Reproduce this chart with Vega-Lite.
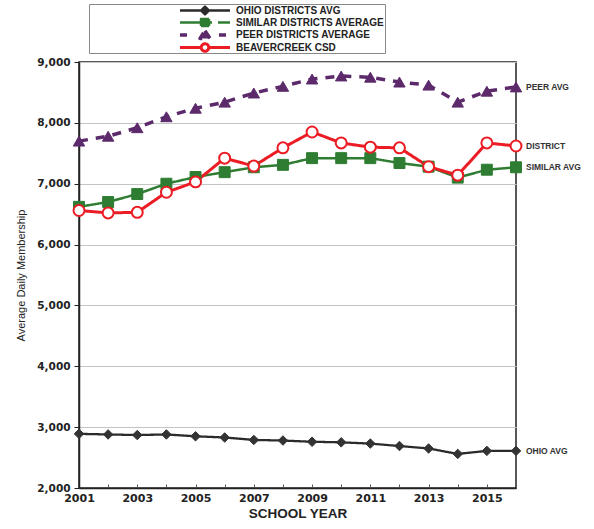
{
  "$schema": "https://vega.github.io/schema/vega-lite/v6.json",
  "autosize": {"type": "none"},
  "width": 437,
  "height": 426,
  "padding": {"left": 79, "top": 62, "right": 78, "bottom": 41},
  "background": "white",
  "config": {
    "font": "Liberation Sans",
    "view": {"stroke": "#222", "strokeWidth": 1.5}
  },
  "datasets": {
    "adm": [
      {"series": "OHIO DISTRICTS AVG", "year": 2001, "adm": 2890},
      {"series": "OHIO DISTRICTS AVG", "year": 2002, "adm": 2880},
      {"series": "OHIO DISTRICTS AVG", "year": 2003, "adm": 2870},
      {"series": "OHIO DISTRICTS AVG", "year": 2004, "adm": 2880},
      {"series": "OHIO DISTRICTS AVG", "year": 2005, "adm": 2850},
      {"series": "OHIO DISTRICTS AVG", "year": 2006, "adm": 2830},
      {"series": "OHIO DISTRICTS AVG", "year": 2007, "adm": 2790},
      {"series": "OHIO DISTRICTS AVG", "year": 2008, "adm": 2780},
      {"series": "OHIO DISTRICTS AVG", "year": 2009, "adm": 2760},
      {"series": "OHIO DISTRICTS AVG", "year": 2010, "adm": 2750},
      {"series": "OHIO DISTRICTS AVG", "year": 2011, "adm": 2730},
      {"series": "OHIO DISTRICTS AVG", "year": 2012, "adm": 2690},
      {"series": "OHIO DISTRICTS AVG", "year": 2013, "adm": 2650},
      {"series": "OHIO DISTRICTS AVG", "year": 2014, "adm": 2560},
      {"series": "OHIO DISTRICTS AVG", "year": 2015, "adm": 2610},
      {"series": "OHIO DISTRICTS AVG", "year": 2016, "adm": 2610},
      {"series": "SIMILAR DISTRICTS AVERAGE", "year": 2001, "adm": 6620},
      {"series": "SIMILAR DISTRICTS AVERAGE", "year": 2002, "adm": 6700},
      {"series": "SIMILAR DISTRICTS AVERAGE", "year": 2003, "adm": 6830},
      {"series": "SIMILAR DISTRICTS AVERAGE", "year": 2004, "adm": 7000},
      {"series": "SIMILAR DISTRICTS AVERAGE", "year": 2005, "adm": 7110},
      {"series": "SIMILAR DISTRICTS AVERAGE", "year": 2006, "adm": 7190},
      {"series": "SIMILAR DISTRICTS AVERAGE", "year": 2007, "adm": 7270},
      {"series": "SIMILAR DISTRICTS AVERAGE", "year": 2008, "adm": 7310},
      {"series": "SIMILAR DISTRICTS AVERAGE", "year": 2009, "adm": 7420},
      {"series": "SIMILAR DISTRICTS AVERAGE", "year": 2010, "adm": 7420},
      {"series": "SIMILAR DISTRICTS AVERAGE", "year": 2011, "adm": 7420},
      {"series": "SIMILAR DISTRICTS AVERAGE", "year": 2012, "adm": 7340},
      {"series": "SIMILAR DISTRICTS AVERAGE", "year": 2013, "adm": 7280},
      {"series": "SIMILAR DISTRICTS AVERAGE", "year": 2014, "adm": 7100},
      {"series": "SIMILAR DISTRICTS AVERAGE", "year": 2015, "adm": 7230},
      {"series": "SIMILAR DISTRICTS AVERAGE", "year": 2016, "adm": 7270},
      {"series": "PEER DISTRICTS AVERAGE", "year": 2001, "adm": 7700},
      {"series": "PEER DISTRICTS AVERAGE", "year": 2002, "adm": 7780},
      {"series": "PEER DISTRICTS AVERAGE", "year": 2003, "adm": 7920},
      {"series": "PEER DISTRICTS AVERAGE", "year": 2004, "adm": 8100},
      {"series": "PEER DISTRICTS AVERAGE", "year": 2005, "adm": 8240},
      {"series": "PEER DISTRICTS AVERAGE", "year": 2006, "adm": 8340},
      {"series": "PEER DISTRICTS AVERAGE", "year": 2007, "adm": 8490},
      {"series": "PEER DISTRICTS AVERAGE", "year": 2008, "adm": 8600},
      {"series": "PEER DISTRICTS AVERAGE", "year": 2009, "adm": 8720},
      {"series": "PEER DISTRICTS AVERAGE", "year": 2010, "adm": 8770},
      {"series": "PEER DISTRICTS AVERAGE", "year": 2011, "adm": 8750},
      {"series": "PEER DISTRICTS AVERAGE", "year": 2012, "adm": 8670},
      {"series": "PEER DISTRICTS AVERAGE", "year": 2013, "adm": 8620},
      {"series": "PEER DISTRICTS AVERAGE", "year": 2014, "adm": 8340},
      {"series": "PEER DISTRICTS AVERAGE", "year": 2015, "adm": 8520},
      {"series": "PEER DISTRICTS AVERAGE", "year": 2016, "adm": 8590},
      {"series": "BEAVERCREEK CSD", "year": 2001, "adm": 6560},
      {"series": "BEAVERCREEK CSD", "year": 2002, "adm": 6520},
      {"series": "BEAVERCREEK CSD", "year": 2003, "adm": 6530},
      {"series": "BEAVERCREEK CSD", "year": 2004, "adm": 6860},
      {"series": "BEAVERCREEK CSD", "year": 2005, "adm": 7030},
      {"series": "BEAVERCREEK CSD", "year": 2006, "adm": 7420},
      {"series": "BEAVERCREEK CSD", "year": 2007, "adm": 7290},
      {"series": "BEAVERCREEK CSD", "year": 2008, "adm": 7590},
      {"series": "BEAVERCREEK CSD", "year": 2009, "adm": 7850},
      {"series": "BEAVERCREEK CSD", "year": 2010, "adm": 7670},
      {"series": "BEAVERCREEK CSD", "year": 2011, "adm": 7600},
      {"series": "BEAVERCREEK CSD", "year": 2012, "adm": 7590},
      {"series": "BEAVERCREEK CSD", "year": 2013, "adm": 7280},
      {"series": "BEAVERCREEK CSD", "year": 2014, "adm": 7140},
      {"series": "BEAVERCREEK CSD", "year": 2015, "adm": 7670},
      {"series": "BEAVERCREEK CSD", "year": 2016, "adm": 7620}
    ],
    "tags": [
      {"series": "OHIO DISTRICTS AVG", "tag": "OHIO AVG"},
      {"series": "SIMILAR DISTRICTS AVERAGE", "tag": "SIMILAR AVG"},
      {"series": "PEER DISTRICTS AVERAGE", "tag": "PEER AVG"},
      {"series": "BEAVERCREEK CSD", "tag": "DISTRICT"}
    ]
  },
  "data": {"name": "adm"},
  "encoding": {
    "x": {
      "field": "year",
      "type": "quantitative",
      "scale": {"domain": [2001, 2016], "nice": false, "zero": false},
      "axis": {
        "title": "SCHOOL YEAR",
        "values": [2001, 2002, 2003, 2004, 2005, 2006, 2007, 2008, 2009, 2010, 2011, 2012, 2013, 2014, 2015, 2016],
        "format": "d",
        "labelExpr": "datum.value % 2 == 1 ? datum.label : ''",
        "labelFlush": false,
        "grid": false,
        "domainColor": "#222",
        "domainWidth": 1.5,
        "tickColor": "#555",
        "tickSize": -4,
        "labelFont": "DejaVu Sans",
        "labelFontSize": 11,
        "labelFontWeight": "bold",
        "labelColor": "#222",
        "labelPadding": 8,
        "titleFontSize": 13.5,
        "titleFontWeight": "bold",
        "titleColor": "#222",
        "titlePadding": 3
      }
    },
    "y": {
      "field": "adm",
      "type": "quantitative",
      "scale": {"domain": [2000, 9000], "nice": false, "zero": false},
      "axis": {
        "title": "Average Daily Membership",
        "values": [2000, 3000, 4000, 5000, 6000, 7000, 8000, 9000],
        "format": ",d",
        "grid": true,
        "gridColor": "#c4c4c4",
        "domainColor": "#222",
        "domainWidth": 1.5,
        "tickColor": "#222",
        "tickSize": 5,
        "labelFont": "DejaVu Sans",
        "labelFontSize": 10.5,
        "labelFontWeight": "bold",
        "labelColor": "#222",
        "labelPadding": 4,
        "titleFontSize": 11,
        "titleFontWeight": "normal",
        "titleColor": "#222",
        "titlePadding": 10
      }
    }
  },
  "layer": [
    {
      "mark": {"type": "line"},
      "encoding": {
        "color": {
          "field": "series",
          "type": "nominal",
          "scale": {
            "domain": ["OHIO DISTRICTS AVG", "SIMILAR DISTRICTS AVERAGE", "PEER DISTRICTS AVERAGE", "BEAVERCREEK CSD"],
            "range": ["#2b2b2b", "#2e7d32", "#5c2a6b", "#ec1c24"]
          },
          "legend": {
            "orient": "none",
            "legendX": 10,
            "legendY": -58,
            "title": null,
            "padding": 0,
            "strokeColor": "#888",
            "fillColor": "white",
            "symbolOffset": 109,
            "symbolSize": 100,
            "symbolStrokeWidth": 2.5,
            "labelOffset": 24,
            "rowPadding": 0,
            "labelFontSize": 10,
            "labelFontWeight": "bold",
            "labelColor": "#222",
            "labelLimit": 300,
            "encode": {
              "symbols": {
                "update": {
                  "shape": {"signal": "datum.value === 'OHIO DISTRICTS AVG' ? 'M-5,0H5M0,-0.8L0.8,0L0,0.8L-0.8,0Z' : datum.value === 'SIMILAR DISTRICTS AVERAGE' ? 'M-5,0H1.4M2.6,0H5M-0.8,-0.7H0.8V0.7H-0.8Z' : datum.value === 'PEER DISTRICTS AVERAGE' ? 'M-5,0H-3.6M2.8,0H4.2M0,-0.85L1,0.7H-1Z' : 'M-5,0H-0.75M0.75,0H5M0.75,0A0.75,0.75 0 1,1 -0.75,0A0.75,0.75 0 1,1 0.75,0Z'"},
                  "fill": {"signal": "datum.value === 'OHIO DISTRICTS AVG' ? '#2b2b2b' : datum.value === 'SIMILAR DISTRICTS AVERAGE' ? '#2e7d32' : datum.value === 'PEER DISTRICTS AVERAGE' ? '#5c2a6b' : '#ffffff'"},
                  "stroke": {"signal": "datum.value === 'OHIO DISTRICTS AVG' ? '#2b2b2b' : datum.value === 'SIMILAR DISTRICTS AVERAGE' ? '#2e7d32' : datum.value === 'PEER DISTRICTS AVERAGE' ? '#5c2a6b' : '#ec1c24'"},
                  "strokeWidth": {"value": 2.5},
                  "strokeJoin": {"value": "round"},
                  "strokeDash": {"value": []},
                  "opacity": {"value": 1}
                }
              }
            }
          }
        },
        "strokeDash": {
          "field": "series",
          "type": "nominal",
          "scale": {
            "domain": ["OHIO DISTRICTS AVG", "SIMILAR DISTRICTS AVERAGE", "PEER DISTRICTS AVERAGE", "BEAVERCREEK CSD"],
            "range": [[1, 0], [1, 0], [9, 8], [1, 0]]
          },
          "legend": null
        },
        "strokeWidth": {
          "field": "series",
          "type": "nominal",
          "scale": {
            "type": "ordinal",
            "domain": ["OHIO DISTRICTS AVG", "SIMILAR DISTRICTS AVERAGE", "PEER DISTRICTS AVERAGE", "BEAVERCREEK CSD"],
            "range": [2.3, 2.5, 3.5, 3]
          },
          "legend": null
        }
      }
    },
    {
      "transform": [{"filter": "datum.series === 'OHIO DISTRICTS AVG'"}],
      "mark": {"type": "point", "shape": "diamond", "filled": true, "fill": "#333333", "stroke": "#333333", "strokeWidth": 1, "opacity": 1, "size": 90}
    },
    {
      "transform": [{"filter": "datum.series === 'SIMILAR DISTRICTS AVERAGE'"}],
      "mark": {"type": "point", "shape": "square", "filled": true, "fill": "#2e7d32", "stroke": "#2e7d32", "strokeWidth": 1, "opacity": 1, "size": 120}
    },
    {
      "transform": [{"filter": "datum.series === 'PEER DISTRICTS AVERAGE'"}],
      "mark": {"type": "point", "shape": "triangle-up", "filled": true, "fill": "#5c2a6b", "stroke": "#5c2a6b", "strokeWidth": 1, "opacity": 1, "size": 130}
    },
    {
      "transform": [{"filter": "datum.series === 'BEAVERCREEK CSD'"}],
      "mark": {"type": "point", "shape": "circle", "filled": true, "fill": "#ffffff", "stroke": "#ec1c24", "strokeWidth": 2, "opacity": 1, "size": 120}
    },
    {
      "transform": [
        {"filter": "datum.year == 2016"},
        {"lookup": "series", "from": {"data": {"name": "tags"}, "key": "series", "fields": ["tag"]}}
      ],
      "mark": {"type": "text", "align": "left", "baseline": "middle", "dx": 10, "fontSize": 8.5, "fontWeight": "bold", "color": "#333"},
      "encoding": {"text": {"field": "tag", "type": "nominal"}}
    }
  ]
}
